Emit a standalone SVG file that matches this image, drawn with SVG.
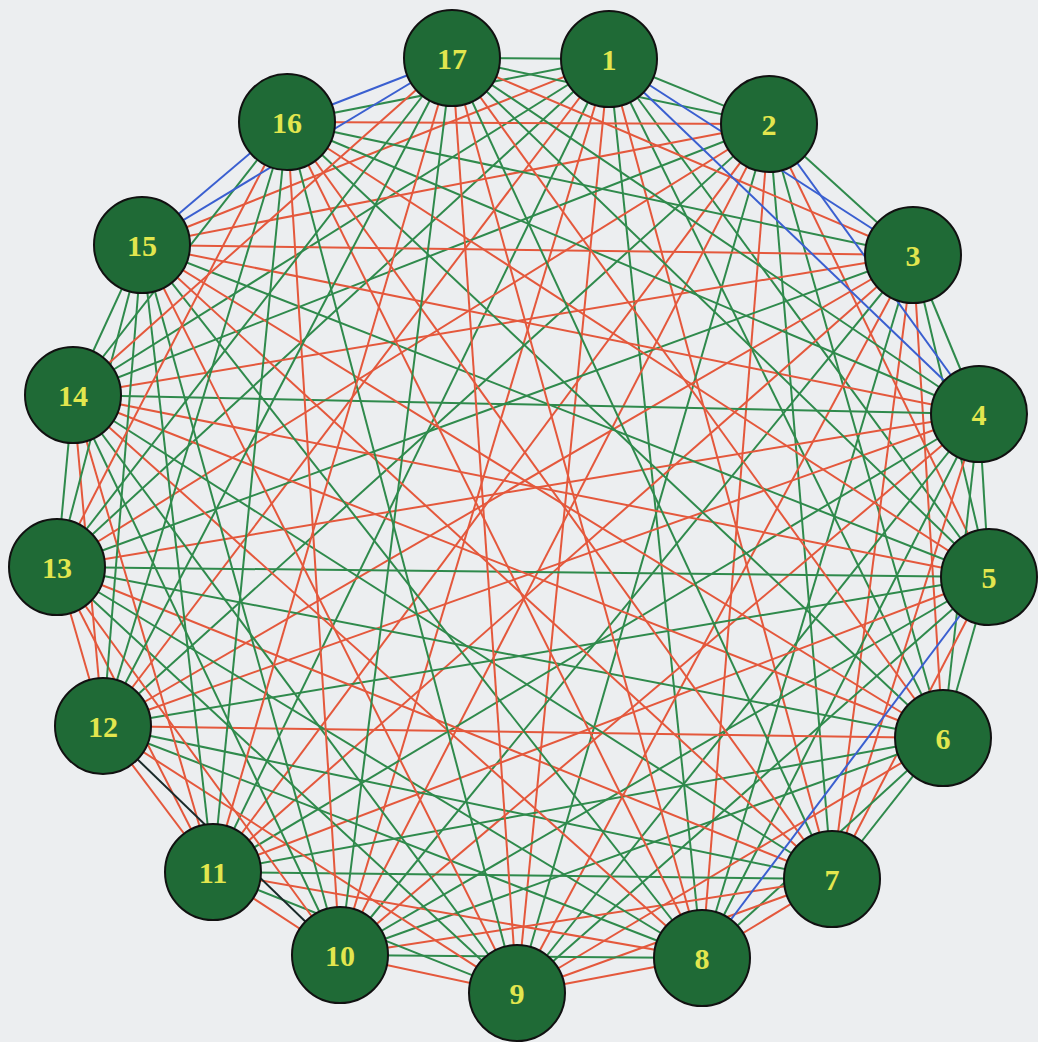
<svg xmlns="http://www.w3.org/2000/svg" width="1038" height="1042" viewBox="0 0 1038 1042">
<style>
.g{stroke:#2f8a4c;stroke-width:2;fill:none}
.r{stroke:#e4583c;stroke-width:2;fill:none}
.b{stroke:#3a5fd0;stroke-width:2;fill:none}
.k{stroke:#1a2a2a;stroke-width:2;fill:none}
.n circle{fill:#1f6a36;stroke:#111;stroke-width:2}
.n text{fill:#e2e64e;font-family:"Liberation Serif",serif;font-weight:bold;font-size:30px;text-anchor:middle;dominant-baseline:central}
</style>
<rect width="1038" height="1042" fill="#eceef0"/>
<g id="edges">
<line class="g" x1="609" y1="59" x2="769" y2="124"/>
<line class="g" x1="609" y1="59" x2="989" y2="577"/>
<line class="g" x1="609" y1="59" x2="943" y2="738"/>
<line class="r" x1="609" y1="59" x2="832" y2="879"/>
<line class="g" x1="609" y1="59" x2="702" y2="958"/>
<line class="r" x1="609" y1="59" x2="517" y2="993"/>
<line class="r" x1="609" y1="59" x2="340" y2="955"/>
<line class="g" x1="609" y1="59" x2="213" y2="872"/>
<line class="r" x1="609" y1="59" x2="103" y2="726"/>
<line class="g" x1="609" y1="59" x2="57" y2="567"/>
<line class="g" x1="609" y1="59" x2="73" y2="395"/>
<line class="r" x1="609" y1="59" x2="142" y2="245"/>
<line class="g" x1="609" y1="59" x2="287" y2="122"/>
<line class="g" x1="609" y1="59" x2="452" y2="58"/>
<line class="g" x1="769" y1="124" x2="913" y2="255"/>
<line class="r" x1="769" y1="124" x2="989" y2="577"/>
<line class="g" x1="769" y1="124" x2="943" y2="738"/>
<line class="g" x1="769" y1="124" x2="832" y2="879"/>
<line class="r" x1="769" y1="124" x2="702" y2="958"/>
<line class="g" x1="769" y1="124" x2="517" y2="993"/>
<line class="r" x1="769" y1="124" x2="340" y2="955"/>
<line class="r" x1="769" y1="124" x2="213" y2="872"/>
<line class="g" x1="769" y1="124" x2="103" y2="726"/>
<line class="r" x1="769" y1="124" x2="57" y2="567"/>
<line class="g" x1="769" y1="124" x2="73" y2="395"/>
<line class="r" x1="769" y1="124" x2="142" y2="245"/>
<line class="r" x1="769" y1="124" x2="287" y2="122"/>
<line class="g" x1="769" y1="124" x2="452" y2="58"/>
<line class="g" x1="913" y1="255" x2="979" y2="414"/>
<line class="g" x1="913" y1="255" x2="989" y2="577"/>
<line class="r" x1="913" y1="255" x2="943" y2="738"/>
<line class="r" x1="913" y1="255" x2="832" y2="879"/>
<line class="g" x1="913" y1="255" x2="702" y2="958"/>
<line class="r" x1="913" y1="255" x2="517" y2="993"/>
<line class="g" x1="913" y1="255" x2="340" y2="955"/>
<line class="r" x1="913" y1="255" x2="213" y2="872"/>
<line class="r" x1="913" y1="255" x2="103" y2="726"/>
<line class="g" x1="913" y1="255" x2="57" y2="567"/>
<line class="r" x1="913" y1="255" x2="73" y2="395"/>
<line class="r" x1="913" y1="255" x2="142" y2="245"/>
<line class="g" x1="913" y1="255" x2="287" y2="122"/>
<line class="r" x1="913" y1="255" x2="452" y2="58"/>
<line class="g" x1="979" y1="414" x2="989" y2="577"/>
<line class="g" x1="979" y1="414" x2="943" y2="738"/>
<line class="r" x1="979" y1="414" x2="832" y2="879"/>
<line class="g" x1="979" y1="414" x2="702" y2="958"/>
<line class="g" x1="979" y1="414" x2="517" y2="993"/>
<line class="r" x1="979" y1="414" x2="340" y2="955"/>
<line class="g" x1="979" y1="414" x2="213" y2="872"/>
<line class="r" x1="979" y1="414" x2="103" y2="726"/>
<line class="r" x1="979" y1="414" x2="57" y2="567"/>
<line class="g" x1="979" y1="414" x2="73" y2="395"/>
<line class="r" x1="979" y1="414" x2="142" y2="245"/>
<line class="g" x1="979" y1="414" x2="287" y2="122"/>
<line class="g" x1="979" y1="414" x2="452" y2="58"/>
<line class="g" x1="989" y1="577" x2="943" y2="738"/>
<line class="r" x1="989" y1="577" x2="832" y2="879"/>
<line class="g" x1="989" y1="577" x2="517" y2="993"/>
<line class="g" x1="989" y1="577" x2="340" y2="955"/>
<line class="r" x1="989" y1="577" x2="213" y2="872"/>
<line class="g" x1="989" y1="577" x2="103" y2="726"/>
<line class="g" x1="989" y1="577" x2="57" y2="567"/>
<line class="r" x1="989" y1="577" x2="73" y2="395"/>
<line class="g" x1="989" y1="577" x2="142" y2="245"/>
<line class="r" x1="989" y1="577" x2="287" y2="122"/>
<line class="g" x1="989" y1="577" x2="452" y2="58"/>
<line class="g" x1="943" y1="738" x2="832" y2="879"/>
<line class="g" x1="943" y1="738" x2="702" y2="958"/>
<line class="r" x1="943" y1="738" x2="517" y2="993"/>
<line class="g" x1="943" y1="738" x2="340" y2="955"/>
<line class="g" x1="943" y1="738" x2="213" y2="872"/>
<line class="r" x1="943" y1="738" x2="103" y2="726"/>
<line class="g" x1="943" y1="738" x2="57" y2="567"/>
<line class="r" x1="943" y1="738" x2="73" y2="395"/>
<line class="r" x1="943" y1="738" x2="142" y2="245"/>
<line class="g" x1="943" y1="738" x2="287" y2="122"/>
<line class="r" x1="943" y1="738" x2="452" y2="58"/>
<line class="r" x1="832" y1="879" x2="702" y2="958"/>
<line class="r" x1="832" y1="879" x2="517" y2="993"/>
<line class="r" x1="832" y1="879" x2="340" y2="955"/>
<line class="g" x1="832" y1="879" x2="213" y2="872"/>
<line class="g" x1="832" y1="879" x2="103" y2="726"/>
<line class="r" x1="832" y1="879" x2="57" y2="567"/>
<line class="g" x1="832" y1="879" x2="73" y2="395"/>
<line class="r" x1="832" y1="879" x2="142" y2="245"/>
<line class="r" x1="832" y1="879" x2="287" y2="122"/>
<line class="g" x1="832" y1="879" x2="452" y2="58"/>
<line class="r" x1="702" y1="958" x2="517" y2="993"/>
<line class="g" x1="702" y1="958" x2="340" y2="955"/>
<line class="r" x1="702" y1="958" x2="213" y2="872"/>
<line class="g" x1="702" y1="958" x2="103" y2="726"/>
<line class="g" x1="702" y1="958" x2="57" y2="567"/>
<line class="r" x1="702" y1="958" x2="73" y2="395"/>
<line class="g" x1="702" y1="958" x2="142" y2="245"/>
<line class="r" x1="702" y1="958" x2="287" y2="122"/>
<line class="r" x1="702" y1="958" x2="452" y2="58"/>
<line class="r" x1="517" y1="993" x2="340" y2="955"/>
<line class="g" x1="517" y1="993" x2="213" y2="872"/>
<line class="r" x1="517" y1="993" x2="103" y2="726"/>
<line class="g" x1="517" y1="993" x2="57" y2="567"/>
<line class="g" x1="517" y1="993" x2="73" y2="395"/>
<line class="r" x1="517" y1="993" x2="142" y2="245"/>
<line class="g" x1="517" y1="993" x2="287" y2="122"/>
<line class="r" x1="517" y1="993" x2="452" y2="58"/>
<line class="r" x1="340" y1="955" x2="213" y2="872"/>
<line class="r" x1="340" y1="955" x2="57" y2="567"/>
<line class="g" x1="340" y1="955" x2="73" y2="395"/>
<line class="g" x1="340" y1="955" x2="142" y2="245"/>
<line class="r" x1="340" y1="955" x2="287" y2="122"/>
<line class="g" x1="340" y1="955" x2="452" y2="58"/>
<line class="r" x1="213" y1="872" x2="103" y2="726"/>
<line class="r" x1="213" y1="872" x2="57" y2="567"/>
<line class="r" x1="213" y1="872" x2="73" y2="395"/>
<line class="g" x1="213" y1="872" x2="142" y2="245"/>
<line class="g" x1="213" y1="872" x2="287" y2="122"/>
<line class="r" x1="213" y1="872" x2="452" y2="58"/>
<line class="r" x1="103" y1="726" x2="57" y2="567"/>
<line class="r" x1="103" y1="726" x2="73" y2="395"/>
<line class="g" x1="103" y1="726" x2="142" y2="245"/>
<line class="g" x1="103" y1="726" x2="287" y2="122"/>
<line class="g" x1="103" y1="726" x2="452" y2="58"/>
<line class="g" x1="57" y1="567" x2="73" y2="395"/>
<line class="g" x1="57" y1="567" x2="142" y2="245"/>
<line class="r" x1="57" y1="567" x2="287" y2="122"/>
<line class="g" x1="57" y1="567" x2="452" y2="58"/>
<line class="g" x1="73" y1="395" x2="142" y2="245"/>
<line class="g" x1="73" y1="395" x2="287" y2="122"/>
<line class="r" x1="73" y1="395" x2="452" y2="58"/>
<line class="b" x1="609" y1="59" x2="913" y2="255"/>
<line class="b" x1="609" y1="59" x2="979" y2="414"/>
<line class="b" x1="769" y1="124" x2="979" y2="414"/>
<line class="b" x1="989" y1="577" x2="702" y2="958"/>
<line class="b" x1="142" y1="245" x2="287" y2="122"/>
<line class="b" x1="142" y1="245" x2="452" y2="58"/>
<line class="b" x1="287" y1="122" x2="452" y2="58"/>
<line class="k" x1="103" y1="726" x2="340" y2="955"/>
</g>
<g id="n1" class="n"><circle cx="609" cy="59" r="48"/><text x="609" y="59">1</text></g>
<g id="n2" class="n"><circle cx="769" cy="124" r="48"/><text x="769" y="124">2</text></g>
<g id="n3" class="n"><circle cx="913" cy="255" r="48"/><text x="913" y="255">3</text></g>
<g id="n4" class="n"><circle cx="979" cy="414" r="48"/><text x="979" y="414">4</text></g>
<g id="n5" class="n"><circle cx="989" cy="577" r="48"/><text x="989" y="577">5</text></g>
<g id="n6" class="n"><circle cx="943" cy="738" r="48"/><text x="943" y="738">6</text></g>
<g id="n7" class="n"><circle cx="832" cy="879" r="48"/><text x="832" y="879">7</text></g>
<g id="n8" class="n"><circle cx="702" cy="958" r="48"/><text x="702" y="958">8</text></g>
<g id="n9" class="n"><circle cx="517" cy="993" r="48"/><text x="517" y="993">9</text></g>
<g id="n10" class="n"><circle cx="340" cy="955" r="48"/><text x="340" y="955">10</text></g>
<g id="n11" class="n"><circle cx="213" cy="872" r="48"/><text x="213" y="872">11</text></g>
<g id="n12" class="n"><circle cx="103" cy="726" r="48"/><text x="103" y="726">12</text></g>
<g id="n13" class="n"><circle cx="57" cy="567" r="48"/><text x="57" y="567">13</text></g>
<g id="n14" class="n"><circle cx="73" cy="395" r="48"/><text x="73" y="395">14</text></g>
<g id="n15" class="n"><circle cx="142" cy="245" r="48"/><text x="142" y="245">15</text></g>
<g id="n16" class="n"><circle cx="287" cy="122" r="48"/><text x="287" y="122">16</text></g>
<g id="n17" class="n"><circle cx="452" cy="58" r="48"/><text x="452" y="58">17</text></g>
</svg>
